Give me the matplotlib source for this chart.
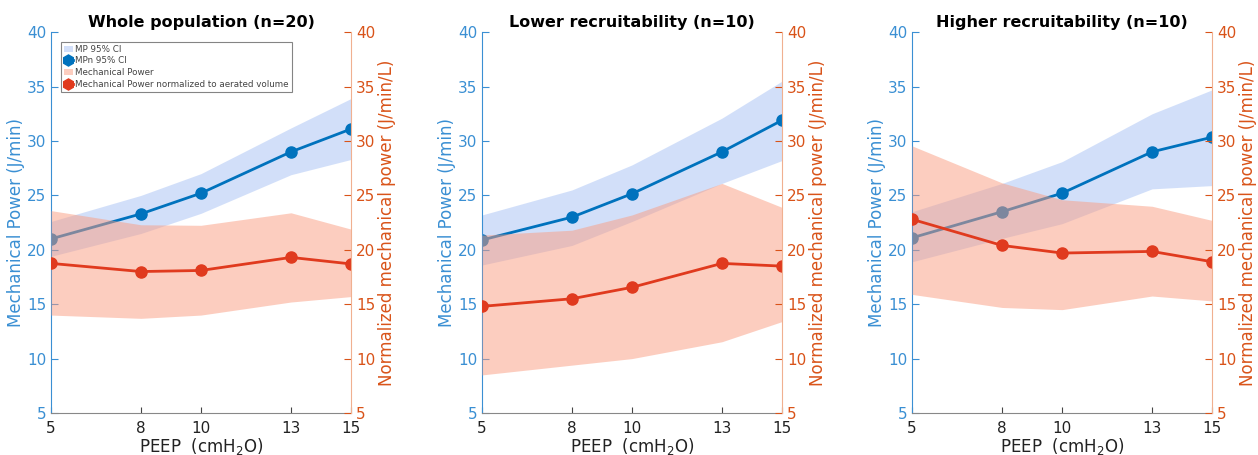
import matplotlib
matplotlib.use("Agg")
import matplotlib.pyplot as plt
from matplotlib.patches import Patch
from matplotlib.lines import Line2D

peep = [5, 8, 10, 13, 15]
titles = ["Whole population (n=20)", "Lower recruitability (n=10)", "Higher recruitability (n=10)"]

mp_mean = [
    [21.0, 23.3, 25.2, 29.0, 31.1],
    [20.9, 23.0, 25.15, 29.0, 31.9],
    [21.1, 23.5, 25.2, 29.0, 30.35],
]
mp_hi = [
    [22.6, 25.0, 27.0, 31.2, 33.9],
    [23.2, 25.5, 27.8, 32.1, 35.5],
    [23.5, 26.1, 28.1, 32.5, 34.7],
]
mp_lo = [
    [19.4, 21.5, 23.35, 26.9, 28.3],
    [18.6, 20.4, 22.6, 26.1, 28.2],
    [18.9, 21.05, 22.4, 25.6, 25.9],
]
mpn_mean = [
    [18.75, 18.0, 18.1, 19.3, 18.7],
    [14.8, 15.5, 16.55, 18.75, 18.5],
    [22.8, 20.4, 19.7, 19.85, 18.9],
]
mpn_hi = [
    [23.6, 22.3, 22.25, 23.4, 21.9],
    [21.35, 21.8, 23.2, 26.1, 23.9],
    [29.55, 26.15, 24.6, 24.0, 22.7],
]
mpn_lo = [
    [14.0, 13.7, 14.0, 15.2, 15.7],
    [8.5, 9.4, 10.0, 11.55, 13.4],
    [15.9, 14.7, 14.5, 15.75, 15.3],
]
yticks = [5, 10, 15, 20, 25, 30, 35, 40]

blue = "#0072BD"
blue_axis = "#3A8FD3"
blue_band = "#AEC6F5"
red = "#E03A1E"
red_band = "#FA9C80"
orange_axis = "#D95319"

fig = plt.figure(figsize=(12.58, 4.55), dpi=100)
lefts = [0.0405, 0.3831, 0.7250]
for i in range(3):
    ax = fig.add_axes([lefts[i], 0.0923, 0.2385, 0.837])
    ax.fill_between(peep, mp_lo[i], mp_hi[i], color=blue_band, alpha=0.55, lw=0)
    ax.plot(peep, mp_mean[i], color=blue, lw=2, marker="o", ms=8)
    ax.set_xlim(5, 15)
    ax.set_ylim(5, 40)
    ax.set_xticks(peep)
    ax.set_yticks(yticks)
    ax.tick_params(axis="y", colors=blue_axis, direction="in", labelsize=11, length=5)
    ax.tick_params(axis="x", colors="#444444", direction="in", labelsize=11, length=4, pad=6)
    for t in ax.get_xticklabels():
        t.set_color("#222222")
    ax.spines["left"].set_color(blue_axis)
    ax.spines["bottom"].set_color("#888888")
    ax.spines["top"].set_visible(False)
    ax.spines["right"].set_visible(False)
    ax.set_ylabel("Mechanical Power (J/min)", color=blue_axis, fontsize=12, labelpad=1)
    ax.set_xlabel("PEEP  (cmH$_2$O)", fontsize=12, color="#222222", labelpad=0)
    ax.set_title(titles[i], fontsize=11.5, fontweight="bold", pad=4)

    ax2 = ax.twinx()
    ax2.fill_between(peep, mpn_lo[i], mpn_hi[i], color=red_band, alpha=0.5, lw=0)
    ax2.plot(peep, mpn_mean[i], color=red, lw=2, marker="o", ms=8)
    ax2.set_ylim(5, 40)
    ax2.set_yticks(yticks)
    ax2.tick_params(axis="y", colors=orange_axis, direction="in", labelsize=11, length=5)
    ax2.spines["right"].set_color("#F0B090")
    ax2.spines["left"].set_visible(False)
    ax2.spines["top"].set_visible(False)
    ax2.spines["bottom"].set_visible(False)
    ax2.set_ylabel("Normalized mechanical power (J/min/L)", color=orange_axis, fontsize=12, labelpad=2)

    if i == 0:
        handles = [
            Patch(facecolor=blue_band, alpha=0.55, edgecolor="none"),
            Line2D([0], [0], color=blue, lw=2, marker="h", ms=8),
            Patch(facecolor=red_band, alpha=0.5, edgecolor="none"),
            Line2D([0], [0], color=red, lw=2, marker="h", ms=8),
        ]
        labels = ["MP 95% CI", "MPn 95% CI", "Mechanical Power",
                  "Mechanical Power normalized to aerated volume"]
        leg = ax2.legend(handles, labels, loc="upper left", bbox_to_anchor=(0.033, 0.975),
                         fontsize=6.3, frameon=True, fancybox=False, handlelength=1.0,
                         handletextpad=0.3, labelspacing=0.3, borderpad=0.35,
                         borderaxespad=0)
        leg.get_frame().set_edgecolor("#666666")
        leg.get_frame().set_linewidth(0.8)
        for t in leg.get_texts():
            t.set_color("#444444")

fig.savefig("out.png", dpi=100)
